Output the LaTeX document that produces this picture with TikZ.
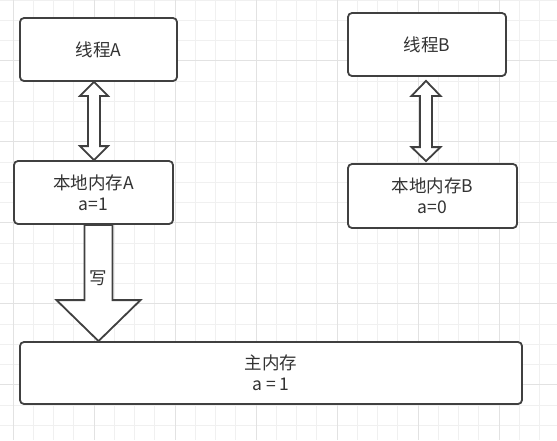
\documentclass[tikz,border=0pt]{standalone}
\usepackage{fontspec}
\setmainfont{Noto Sans CJK SC}
\usetikzlibrary{calc}
\definecolor{ink}{HTML}{333333}
\definecolor{rim}{HTML}{404040}
\definecolor{gridminor}{HTML}{F0F0F0}
\definecolor{gridmajor}{HTML}{E2E2E2}

\begin{document}
\begin{tikzpicture}[x=1pt,y=-1pt,
    box/.style={draw=rim,line width=1.8pt,fill=white,rounded corners=4pt,
      inner sep=0pt,align=center,text=ink,font=\fontsize{17.5}{21}\selectfont},
    fat/.style={draw=rim,line width=1.8pt,fill=white,line join=miter},
    lbl/.style={inner sep=0pt,text=ink,font=\fontsize{17.5}{21}\selectfont}]
      \useasboundingbox (0,0) rectangle (557,440);
      % grid
      \fill[white] (0,0) rectangle (557,440);
      \foreach \i in {0,...,27} \draw[gridminor,line width=1pt] ({13+20.25*\i},0) -- ++(0,440);
      \foreach \j in {0,...,21} \draw[gridminor,line width=1pt] (0,{20.25*\j}) -- ++(557,0);
      \foreach \i in {0,4,...,24} \draw[gridmajor,line width=1pt] ({13+20.25*\i},0) -- ++(0,440);
      \foreach \j in {3,7,...,19} \draw[gridmajor,line width=1pt] (0,{20.25*\j}) -- ++(557,0);
      % boxes
      \node[box,minimum width=157pt,minimum height=63pt] (ta) at (98.5,49.5) {线程A};
      \node[box,minimum width=159pt,minimum height=63pt] (la) at (93.5,192.5) {本地内存A\\a=1};
      \node[box,minimum width=158pt,minimum height=63pt] (tb) at (427,44.5) {线程B};
      \node[box,minimum width=169pt,minimum height=64pt] (lb) at (432.5,196) {本地内存B\\a=0};
      \node[box,minimum width=502pt,minimum height=62pt] (mm) at (271,373) {主内存\\a = 1};
      \coordinate (xa) at (94,0);
      \coordinate (xb) at (426,0);
      \coordinate (xw) at (98.5,0);
      % double arrows
      \coordinate (at) at (ta.south -| xa);
      \coordinate (ab) at (la.north -| xa);
      \draw[fat] (at) -- ++(14,14) -- ++(-8,0) -- ($(ab)+(6,-14)$) -- ++(8,0) -- (ab)
        -- ++(-14,-14) -- ++(8,0) -- ($(at)+(-6,14)$) -- ++(-8,0) -- cycle;
      \coordinate (bt) at ($(tb.south -| xb)+(0,4)$);
      \coordinate (bb) at ($(lb.north -| xb)+(0,-2)$);
      \draw[fat] (bt) -- ++(14.5,15) -- ++(-8.5,0) -- ($(bb)+(6,-14)$) -- ++(8.5,0) -- (bb)
        -- ++(-14.5,-14) -- ++(8.5,0) -- ($(bt)+(-6,15)$) -- ++(-8.5,0) -- cycle;
      % write arrow
      \coordinate (wt) at (la.south -| xw);
      \coordinate (wp) at (mm.north -| xw);
      \draw[fat] ($(wt)+(-14,0)$) -- ($(wt)+(14,0)$) -- ($(wp)+(14,-41)$) -- ++(28,0) -- (wp)
        -- ++(-42,-41) -- ++(28,0) -- cycle;
      \node[lbl] (wr) at ($(wt)+(0,53)$) {写};
    \end{tikzpicture}
\end{document}
